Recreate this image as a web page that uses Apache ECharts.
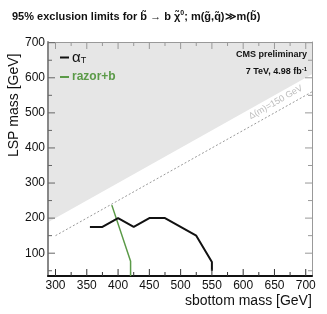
<!DOCTYPE html>
<html><head><meta charset="utf-8">
<script src="https://cdn.jsdelivr.net/npm/echarts@6/dist/echarts.min.js"></script>
<style>html,body{margin:0;padding:0;background:#fff}#c{width:327px;height:314px}</style>
</head><body><div id="c"></div>
<script>
// ---- data ----
const xTicks = [300, 350, 400, 450, 500, 550, 600, 650, 700];
const xMinorTicks = [325, 375, 425, 475, 525, 575, 625, 675];
const yTicks = [100, 200, 300, 400, 500, 600, 700];
const yMinorTicks = [50, 150, 250, 350, 450, 550, 650];
const alphaTX = [355, 375, 400, 425, 450, 475, 525, 550, 550];
const alphaTY = [175, 175, 200, 175, 200, 200, 150, 75, 50];
const razorX = [390, 420, 420];
const razorY = [237, 77, 35];
const forbiddenX = [288, 710];
const forbiddenY = [188, 610];
const dm150X = [300, 710];
const dm150Y = [150, 560];
const dm150LabelPos = [652, 530];
const dm150Label = 'Δ(m)=150 GeV';
const seriesNames = ['alphaT', 'razor+b'];

const xMin = 288, xMax = 710, yMin = 35, yMax = 702;
const FONT = 'Liberation Sans';
const zip = (a, b) => a.map((v, i) => [v, b[i]]);

// plotting area, used to convert tick lengths (px) into axis units
const W = 327, H = 314;
const G = {left: 48, right: 15, top: 42, bottom: 38};
const sx = (W - G.left - G.right) / (xMax - xMin);
const sy = (H - G.top - G.bottom) / (yMax - yMin);

function tickSeries(vals, side, lenPx, color) {
  const data = [];
  vals.forEach(v => {
    if (side === 'bottom') data.push([v, yMin], [v, yMin + lenPx / sy]);
    else if (side === 'top') data.push([v, yMax], [v, yMax - lenPx / sy]);
    else if (side === 'left') data.push([xMin, v], [xMin + lenPx / sx, v]);
    else data.push([xMax, v], [xMax - lenPx / sx, v]);
    data.push(['-', '-']);
  });
  return {type: 'line', name: 'tick-' + side, data: data, symbol: 'none', silent: true, z: 6,
    connectNulls: false, clip: false, lineStyle: {color: color, width: 1}};
}

function axis(kind, pos, line, labels) {
  const isX = kind === 'x';
  return {
    type: 'value', min: isX ? xMin : yMin, max: isX ? xMax : yMax, position: pos,
    axisLine: {show: true, onZero: false, lineStyle: line},
    splitLine: {show: false},
    axisTick: {show: false},
    axisLabel: labels ? {show: true, customValues: labels, fontFamily: FONT, fontSize: 12, color: '#111', margin: isX ? 4 : 3} : {show: false}
  };
}

const chart = echarts.init(document.getElementById('c'), null, {renderer: 'canvas'});
chart.setOption({
  animation: false,
  title: {
    text: '95% exclusion limits for b\u0303 \u2192 b \u03C7\u0303{sup|0}; m(g\u0303,q\u0303)\u226Bm(b\u0303)',
    left: 7, top: 5,
    textStyle: {fontFamily: FONT, fontSize: 11, fontWeight: 'bold', color: '#111',
      rich: {sup: {fontSize: 7, fontWeight: 'bold', verticalAlign: 'top', padding: [0, 0, 6, 0]}}}
  },
  grid: G,
  xAxis: [
    axis('x', 'bottom', {color: '#111', width: 2}, xTicks),
    axis('x', 'top', {color: '#999', width: 1}, null)
  ],
  yAxis: [
    axis('y', 'left', {color: '#888', width: 2}, yTicks),
    axis('y', 'right', {color: '#999', width: 1}, null)
  ],
  legend: {
    show: true, orient: 'vertical', left: 55, top: 45, itemGap: 6,
    itemWidth: 9, itemHeight: 2, icon: 'rect',
    data: [
      {name: seriesNames[0], textStyle: {color: '#111'}},
      {name: seriesNames[1], textStyle: {color: '#5b9a48', fontWeight: 'bold', fontSize: 12}}
    ],
    formatter: n => n === 'alphaT' ? '{a|α}{s|T}' : n,
    textStyle: {fontFamily: FONT, fontSize: 12, padding: [0, 0, 0, -2],
      rich: {a: {fontSize: 15, color: '#111', fontFamily: FONT}, s: {fontSize: 9, color: '#111', verticalAlign: 'bottom', padding: [6, 0, 0, 0], fontFamily: FONT}}}
  },
  series: [
    {
      type: 'line', name: 'forbidden', data: zip(forbiddenX, forbiddenY), symbol: 'none',
      lineStyle: {width: 0}, areaStyle: {color: '#e6e6e6', origin: 'end', opacity: 1}, silent: true, z: -1
    },
    {
      type: 'line', name: 'dm150', data: zip(dm150X, dm150Y), symbol: 'none',
      lineStyle: {color: '#999', width: 1, type: [2, 2]}, z: 2
    },
    {
      type: 'scatter', name: 'dm150label', data: [dm150LabelPos], symbolSize: 0,
      label: {show: true, position: 'inside', formatter: dm150Label, rotate: 29.4,
        fontFamily: FONT, fontSize: 9, color: '#aaa'}, z: 3
    },
    {
      type: 'line', name: seriesNames[0], data: zip(alphaTX, alphaTY), symbol: 'none',
      itemStyle: {color: '#111'}, lineStyle: {color: '#111', width: 2}, z: 5
    },
    {
      type: 'line', name: seriesNames[1], data: zip(razorX, razorY), symbol: 'none',
      itemStyle: {color: '#5b9a48'}, lineStyle: {color: '#5b9a48', width: 1.5}, z: 4
    },
    tickSeries(xTicks, 'bottom', 7, '#333'),
    tickSeries(xMinorTicks, 'bottom', 4, '#333'),
    tickSeries(xTicks, 'top', 7, '#999'),
    tickSeries(xMinorTicks, 'top', 4, '#999'),
    tickSeries(yTicks, 'left', 7, '#666'),
    tickSeries(yMinorTicks, 'left', 4, '#666'),
    tickSeries(yTicks, 'right', 7, '#999'),
    tickSeries(yMinorTicks, 'right', 4, '#999')
  ],
  graphic: [
    {type: 'text', right: 20, top: 50, style: {text: 'CMS preliminary', font: 'bold 9px "Liberation Sans"', fill: '#111'}},
    {type: 'text', right: 20, top: 66, style: {text: '7 TeV, 4.98 fb{s|-1}', font: 'bold 9px "Liberation Sans"', fill: '#111',
      rich: {s: {fontSize: 6, fontWeight: 'bold', verticalAlign: 'top', padding: [0, 0, 5, 0]}}}},
    {type: 'text', left: 185, top: 294, style: {text: 'sbottom mass [GeV]', font: '14px "Liberation Sans"', fill: '#111'}},
    {type: 'text', x: 7, y: 157, rotation: Math.PI / 2, style: {text: 'LSP mass [GeV]', font: '14px "Liberation Sans"', fill: '#111'}}
  ]
});
</script></body></html>
